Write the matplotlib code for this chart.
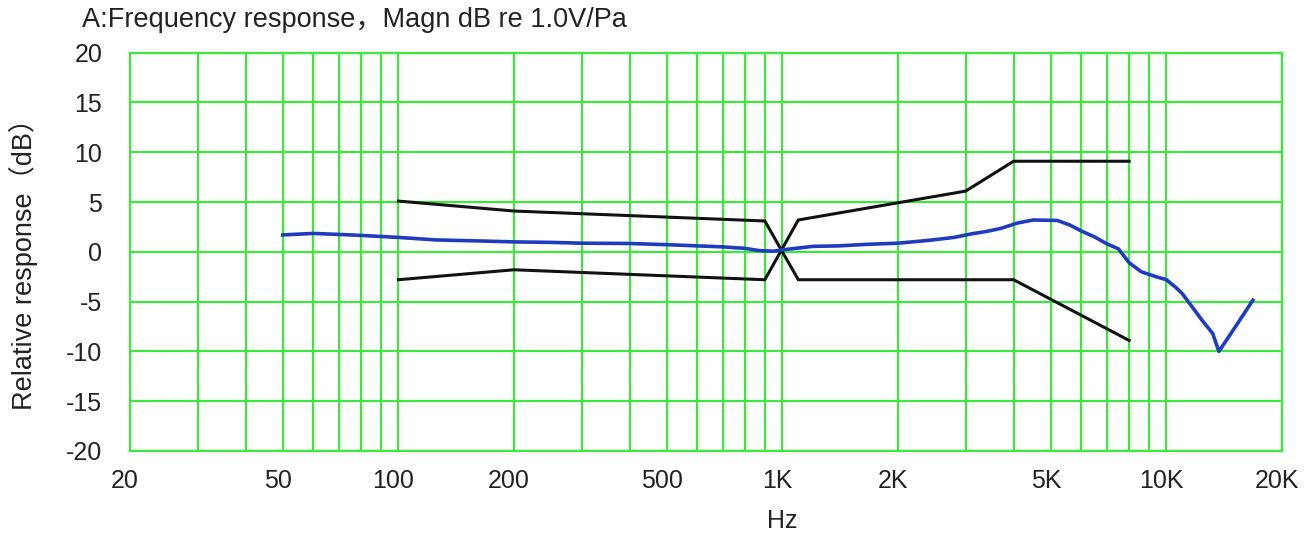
import numpy as np
import matplotlib
matplotlib.use("Agg")
import matplotlib.pyplot as plt
from matplotlib.ticker import FixedLocator, NullFormatter, LogLocator
from matplotlib.transforms import ScaledTranslation

plt.rcParams['font.family'] = ['Liberation Sans', 'Noto Sans CJK SC', 'DejaVu Sans']
plt.rcParams['axes.unicode_minus'] = False

# ---- data ----
freq_hz = [50, 60, 70, 80, 100, 125, 160, 200, 250, 300, 400, 500, 600, 700, 800,
           870, 950, 1000, 1200, 1400, 1650, 2000, 2400, 2800, 3100, 3400, 3700,
           4100, 4500, 5200, 5600, 6000, 6500, 7000, 7500, 8000, 8600, 9400,
           10000, 10600, 11000, 12400, 13200, 13700, 14900, 16800]
response_db = [1.7, 1.85, 1.75, 1.65, 1.45, 1.2, 1.1, 1.0, 0.95, 0.87, 0.84, 0.72, 0.6,
               0.5, 0.35, 0.12, 0.07, 0.2, 0.55, 0.6, 0.75, 0.87, 1.15, 1.45, 1.8,
               2.05, 2.35, 2.9, 3.2, 3.15, 2.7, 2.1, 1.5, 0.8, 0.3, -1.1, -2.0, -2.5,
               -2.8, -3.6, -4.2, -6.9, -8.2, -10.0, -7.9, -4.85]

# tolerance mask, drawn as two crossing polylines
tol_a_hz = [100, 200, 900, 1100, 4000, 8000]
tol_a_db = [5.1, 4.1, 3.1, -2.8, -2.8, -8.9]
tol_b_hz = [100, 200, 900, 1100, 3000, 4000, 8000]
tol_b_db = [-2.8, -1.8, -2.8, 3.2, 6.1, 9.1, 9.1]

xtick_vals = [20, 50, 100, 200, 500, 1000, 2000, 5000, 10000, 20000]
xtick_labels = ['20', '50', '100', '200', '500', '1K', '2K', '5K', '10K', '20K']
ytick_vals = [20, 15, 10, 5, 0, -5, -10, -15, -20]

title = "A:Frequency response，Magn dB re 1.0V/Pa"
ylabel = "Relative response（dB）"
xlabel = "Hz"

# ---- style ----
GREEN = '#3ee63e'
BLUE = '#1f3cbf'
W, H = 1315, 536

fig = plt.figure(figsize=(W / 100, H / 100), dpi=100)
ax = fig.add_axes([130 / W, 1 - 451 / H, (1282 - 130) / W, (451 - 52.7) / H])

ax.set_xscale('log')
ax.set_xlim(20, 20000)
ax.set_ylim(-20, 20)

ax.xaxis.set_major_locator(FixedLocator(xtick_vals))
ax.set_xticklabels(xtick_labels)
ax.xaxis.set_minor_locator(LogLocator(base=10, subs=np.arange(2, 10)))
ax.xaxis.set_minor_formatter(NullFormatter())
ax.set_yticks(ytick_vals)

ax.grid(True, which='both', axis='x', color=GREEN, lw=1.6)
ax.grid(True, which='major', axis='y', color=GREEN, lw=1.6)
ax.set_axisbelow(True)
for s in ax.spines.values():
    s.set_color(GREEN)
    s.set_linewidth(1.6)

ax.tick_params(axis='both', which='both', length=0, labelsize=18, colors='#222222')
ax.tick_params(axis='x', pad=13)
ax.tick_params(axis='y', pad=20)
off = ScaledTranslation(-5 / 100, 0, fig.dpi_scale_trans)
for lab in ax.get_xticklabels():
    lab.set_transform(lab.get_transform() + off)

ax.plot(tol_a_hz, tol_a_db, color='#111111', lw=2.2, solid_joinstyle='miter')
ax.plot(tol_b_hz, tol_b_db, color='#111111', lw=2.2, solid_joinstyle='miter')
ax.plot(freq_hz, response_db, color=BLUE, lw=2.6)

fig.text(82 / W, 1 - 20 / H, title, fontsize=19.5, color='#222222', ha='left', va='center')
fig.text(23 / W, 1 - 258 / H, ylabel, fontsize=19.5, color='#222222', rotation=90,
         ha='center', va='center')
hz_frac = np.log10(1000 / 20) / np.log10(20000 / 20)
fig.text((130 + hz_frac * (1282 - 130)) / W, 1 - 521 / H, xlabel, fontsize=18,
         color='#222222', ha='center', va='center')

fig.savefig('out.png', dpi=100)
